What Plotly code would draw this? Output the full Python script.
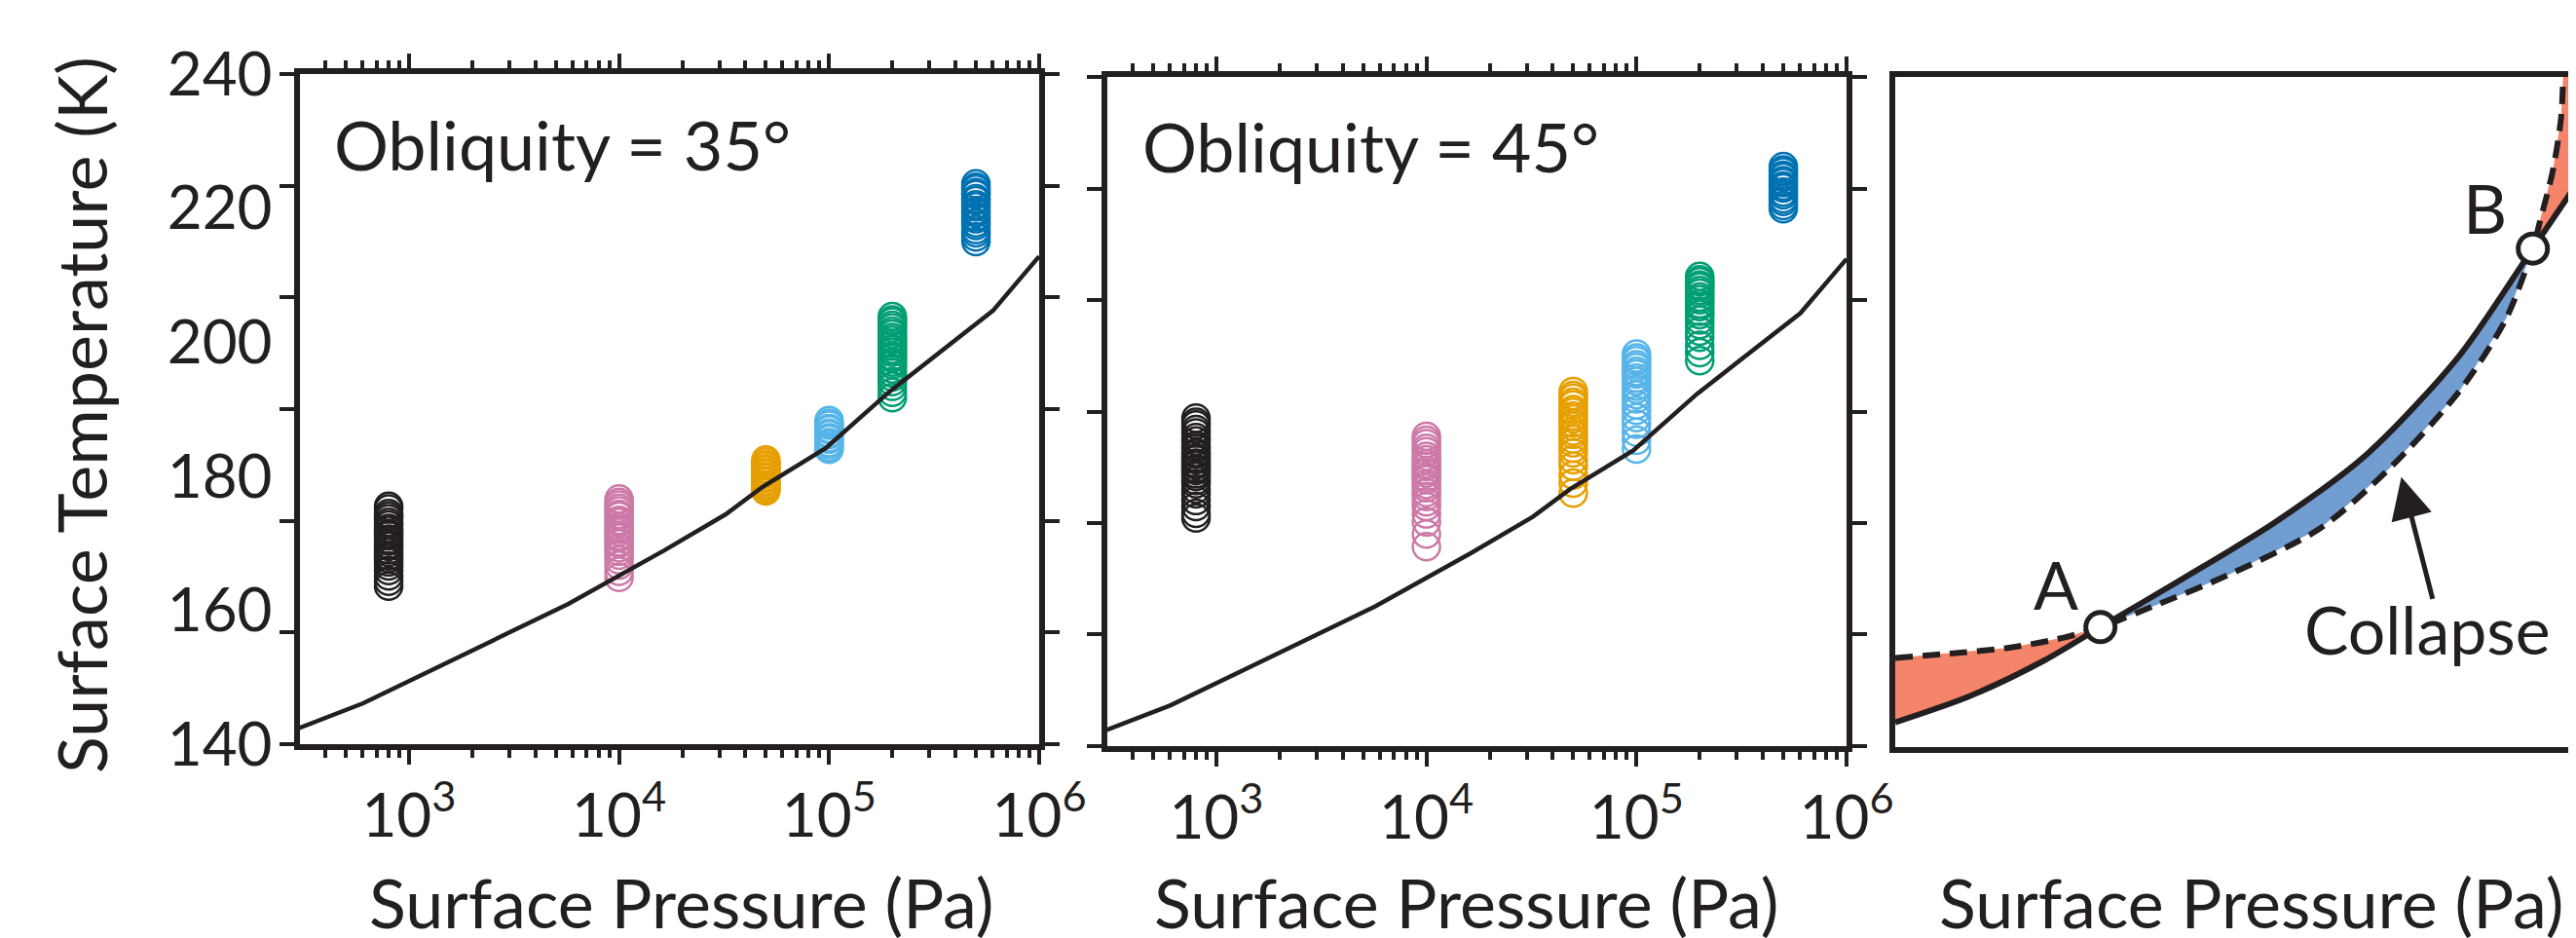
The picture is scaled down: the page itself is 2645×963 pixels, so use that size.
import plotly.graph_objects as go

W, H = 2645, 963
INK = "#231F20"
FONT = "Lato"

# ---------------- data ----------------
cluster_pressure = [800, 1e4, 5e4, 1e5, 2e5, 5e5]
cluster_colors = ["#231F20", "#CC79A7", "#E69F00", "#56B4E9", "#009E73", "#0072B2"]

# Obliquity = 35 deg : surface temperatures (K) for each pressure cluster
t35_p800 = [175.5, 175.1, 174.4, 174.0, 173.6, 173.1, 172.7, 172.2, 171.9, 171.4, 171.1, 170.6,
            170.3, 169.8, 169.5, 169.0, 168.6, 168.1, 167.7, 167.2, 166.6, 165.9, 165.1, 164.3, 163.6]
t35_p1e4 = [176.6, 176.1, 175.7, 175.2, 174.8, 174.3, 174.0, 173.4, 173.1, 172.5, 172.1, 171.7,
            171.1, 170.8, 170.2, 169.9, 169.3, 168.8, 168.2, 167.5, 166.7, 165.8, 164.9]
t35_p5e4 = [182.4, 182.1, 181.7, 181.5, 181.1, 180.9, 180.5, 180.3, 179.9, 179.7, 179.3, 179.1,
            178.7, 178.4, 178.1, 177.8]
t35_p1e5 = [188.3, 187.9, 187.6, 187.1, 186.9, 186.4, 186.2, 185.7, 185.5, 185.0, 184.7, 184.3, 184.0]
t35_p2e5 = [203.8, 203.3, 203.0, 202.5, 202.1, 201.6, 201.2, 200.7, 200.3, 199.8, 199.4, 198.9,
            198.5, 197.9, 197.6, 197.0, 196.6, 196.0, 195.4, 194.8, 194.1, 193.4, 192.5, 191.7]
t35_p5e5 = [223.6, 223.1, 222.8, 222.3, 222.0, 221.4, 221.1, 220.5, 220.2, 219.6, 219.3, 218.7,
            218.4, 217.8, 217.4, 216.8, 216.3, 215.7, 215.0]

# Obliquity = 45 deg
t45_p800 = [189.0, 188.4, 188.0, 187.3, 186.8, 186.1, 185.6, 184.9, 184.5, 183.9, 183.6, 183.1,
            182.8, 182.3, 182.0, 181.5, 181.2, 180.7, 180.3, 179.7, 179.2, 178.4, 177.7, 176.7,
            175.8, 174.8, 174.1]
t45_p1e4 = [186.3, 185.7, 185.2, 184.5, 184.0, 183.3, 182.8, 182.2, 181.8, 181.2, 180.8, 180.2,
            179.8, 179.1, 178.6, 177.9, 177.3, 176.5, 175.8, 174.7, 173.5, 171.7, 169.8]
t45_p5e4 = [193.0, 192.4, 192.0, 191.4, 191.0, 190.3, 189.9, 189.3, 188.9, 188.3, 187.8, 187.1,
            186.6, 185.9, 185.3, 184.5, 183.8, 182.8, 181.8, 180.5, 179.3, 177.8]
t45_p1e5 = [198.6, 198.0, 197.6, 197.0, 196.6, 196.0, 195.6, 195.0, 194.5, 193.8, 193.3, 192.5,
            191.9, 191.0, 190.2, 189.1, 188.1, 186.9, 185.7, 184.4]
t45_p2e5 = [210.2, 209.7, 209.4, 208.9, 208.6, 208.1, 207.7, 207.1, 206.7, 206.1, 205.7, 205.0,
            204.5, 203.7, 203.0, 202.0, 201.1, 199.9, 198.8, 197.6]
t45_p5e5 = [226.6, 226.1, 225.8, 225.3, 225.0, 224.5, 224.2, 223.7, 223.4, 222.8, 222.4, 221.8,
            221.4, 220.8, 220.3]

t35_clusters = [t35_p800, t35_p1e4, t35_p5e4, t35_p1e5, t35_p2e5, t35_p5e5]
t45_clusters = [t45_p800, t45_p1e4, t45_p5e4, t45_p1e5, t45_p2e5, t45_p5e5]

# reference (solid) curve, shared by both panels
curve_p = [300, 605, 5710, 16400, 32200, 48300, 96600, 193600, 603000, 1000000]
curve_t = [142.4, 146.1, 160.9, 168.9, 174.3, 178.4, 184.2, 192.6, 204.7, 212.8]

# axis ticks
x_major = [1e3, 1e4, 1e5, 1e6]
x_major_text = ["10<sup>3</sup>", "10<sup>4</sup>", "10<sup>5</sup>", "10<sup>6</sup>"]
x_minor = [m * 10 ** e for e in (2, 3, 4, 5) for m in range(2, 10) if 300 <= m * 10 ** e < 1e6]
y_label_vals = [140, 160, 180, 200, 220, 240]
y_mark_vals = [140, 156.67, 173.33, 190, 206.67, 223.33, 240]

# schematic panel (arbitrary units 0..1)
solid_u = [0.0, 0.108, 0.216, 0.298, 0.417, 0.551, 0.686, 0.820, 0.926, 1.0]
solid_v = [0.037, 0.076, 0.129, 0.179, 0.251, 0.335, 0.438, 0.585, 0.744, 0.856]
dashed_u = [0.0, 0.163, 0.243, 0.298, 0.379, 0.484, 0.618, 0.718, 0.820, 0.887, 0.926, 0.936, 0.955, 0.967, 0.970]
dashed_v = [0.133, 0.148, 0.163, 0.179, 0.212, 0.257, 0.327, 0.416, 0.532, 0.639, 0.744, 0.783, 0.860, 0.939, 1.0]
point_u = [0.298, 0.926]
point_v = [0.179, 0.744]
point_names = ["A", "B"]
iA_s, iB_s = 3, 8
iA_d, iB_d = 3, 10

RED = "#F4846A"
BLUE = "#729DD1"


# ---------------- layout helpers ----------------
def px_x(x):
    return x / W


def px_y(y):
    return 1 - y / H


fig = go.Figure()

# ---- panel 1 & 2 scatter ----
for clusters, xa, ya in [(t35_clusters, "x", "y"), (t45_clusters, "x2", "y2")]:
    for p, temps, col in zip(cluster_pressure, clusters, cluster_colors):
        fig.add_trace(go.Scatter(
            x=[p] * len(temps), y=temps, mode="markers", xaxis=xa, yaxis=ya,
            marker=dict(symbol="circle-open", size=28, color=col, line=dict(width=2.5, color=col)),
            showlegend=False, hoverinfo="x+y"))

fig.add_trace(go.Scatter(x=curve_p, y=curve_t, mode="lines", xaxis="x", yaxis="y7",
                         line=dict(color=INK, width=4.5), showlegend=False))
fig.add_trace(go.Scatter(x=curve_p, y=curve_t, mode="lines", xaxis="x2", yaxis="y2",
                         line=dict(color=INK, width=4.5), showlegend=False))

# ---- panel 3 fills ----
left_u = dashed_u[:iA_d + 1] + solid_u[:iA_s + 1][::-1]
left_v = dashed_v[:iA_d + 1] + solid_v[:iA_s + 1][::-1]
mid_u = solid_u[iA_s:iB_s + 1] + dashed_u[iA_d:iB_d + 1][::-1]
mid_v = solid_v[iA_s:iB_s + 1] + dashed_v[iA_d:iB_d + 1][::-1]
right_u = dashed_u[iB_d:] + [1.0] + solid_u[iB_s:][::-1]
right_v = dashed_v[iB_d:] + [1.0] + solid_v[iB_s:][::-1]
for uu, vv, c in [(left_u, left_v, RED), (mid_u, mid_v, BLUE), (right_u, right_v, RED)]:
    fig.add_trace(go.Scatter(x=uu, y=vv, mode="lines", fill="toself", fillcolor=c,
                             line=dict(width=0, color=c), xaxis="x3", yaxis="y3",
                             showlegend=False, hoverinfo="skip"))
fig.add_trace(go.Scatter(x=dashed_u, y=dashed_v, mode="lines", xaxis="x3", yaxis="y3",
                         line=dict(color=INK, width=6, dash="18px,10px", shape="spline",
                                   smoothing=0.8),
                         showlegend=False))
fig.add_trace(go.Scatter(x=solid_u, y=solid_v, mode="lines", xaxis="x3", yaxis="y3",
                         line=dict(color=INK, width=6, shape="spline", smoothing=0.8),
                         showlegend=False))
fig.add_trace(go.Scatter(x=point_u, y=point_v, mode="markers", xaxis="x3", yaxis="y3",
                         marker=dict(symbol="circle", size=30, color="white",
                                     line=dict(width=5, color=INK)),
                         text=point_names, showlegend=False))

# ---- axes ----
tickfont = dict(family=FONT, size=62, color=INK)
p1x = [px_x(300), px_x(1059)]
p2x = [px_x(1129), px_x(1888)]
p3x = [px_x(1938), 1.0]
p1y = [px_y(756), px_y(68)]
p2y = [px_y(758), px_y(71)]
p3y = [px_y(759), px_y(71)]


def xcfg(domain, anchor):
    return dict(type="log", range=[2.481, 6.0], domain=domain, anchor=anchor,
                showline=True, linewidth=6, linecolor=INK, mirror="ticks",
                ticks="outside", ticklen=15, tickwidth=4, tickcolor=INK,
                tickmode="array", tickvals=x_major, ticktext=x_major_text,
                tickfont=tickfont, ticklabelstandoff=0, automargin=False,
                showgrid=False, zeroline=False,
                minor=dict(tickmode="array", tickvals=x_minor, ticks="outside", ticklen=8,
                           tickwidth=4, tickcolor=INK, showgrid=False))


def ycfg(domain, anchor):
    return dict(range=[140, 240], domain=domain, anchor=anchor,
                showline=True, linewidth=6, linecolor=INK, mirror="ticks",
                ticks="outside", ticklen=15, tickwidth=4, tickcolor=INK,
                tickmode="array", tickvals=y_mark_vals, showticklabels=False,
                showgrid=False, zeroline=False, automargin=False)


fig.update_layout(
    width=W, height=H, margin=dict(l=0, r=0, t=0, b=0, pad=0, autoexpand=False),
    paper_bgcolor="white", plot_bgcolor="white",
    font=dict(family=FONT, color=INK),
    xaxis=xcfg(p1x, "y"), yaxis=ycfg(p1y, "x"),
    xaxis2=xcfg(p2x, "y2"), yaxis2=ycfg(p2y, "x2"),
    yaxis7=dict(range=[140, 240], overlaying="y", anchor="x", side="left",
                tickmode="array", tickvals=y_label_vals, ticks="outside", ticklen=15,
                tickwidth=1, tickcolor="rgba(0,0,0,0)", showline=False, showgrid=False,
                zeroline=False, tickfont=tickfont, ticklabelstandoff=0, automargin=False),
    xaxis3=dict(range=[0, 1], domain=p3x, anchor="y3", showline=True, linewidth=6,
                linecolor=INK, mirror=True, showticklabels=False, ticks="",
                showgrid=False, zeroline=False, automargin=False),
    yaxis3=dict(range=[0, 1], domain=p3y, anchor="x3", showline=True, linewidth=6,
                linecolor=INK, mirror=False, showticklabels=False, ticks="",
                showgrid=False, zeroline=False, automargin=False),
    showlegend=False,
)

big = dict(family=FONT, size=70, color=INK)
ann = []
ann.append(dict(text="Surface Temperature (K)", textangle=-90, x=px_x(75), y=px_y(418),
                xref="paper", yref="paper", xanchor="center", yanchor="middle",
                showarrow=False, font=big))
for cx in (691, 1498, 2303):
    ann.append(dict(text="Surface Pressure (Pa)", x=px_x(cx), y=px_y(918), xref="paper",
                    yref="paper", xanchor="center", yanchor="middle", showarrow=False, font=big))
ann.append(dict(text="Obliquity = 35°", x=px_x(333), y=px_y(140), xref="paper", yref="paper",
                xanchor="left", yanchor="middle", showarrow=False, font=big))
ann.append(dict(text="Obliquity = 45°", x=px_x(1163), y=px_y(142), xref="paper", yref="paper",
                xanchor="left", yanchor="middle", showarrow=False, font=big))
ann.append(dict(text="A", x=px_x(2103), y=px_y(591), xref="paper", yref="paper",
                xanchor="center", yanchor="middle", showarrow=False,
                font=dict(family=FONT, size=68, color=INK)))
ann.append(dict(text="B", x=px_x(2543), y=px_y(205), xref="paper", yref="paper",
                xanchor="center", yanchor="middle", showarrow=False,
                font=dict(family=FONT, size=70, color=INK)))
ann.append(dict(text="Collapse", x=px_x(2484), y=px_y(637), xref="paper", yref="paper",
                xanchor="center", yanchor="middle", showarrow=False,
                font=dict(family=FONT, size=68, color=INK)))
# arrow pointing from "Collapse" to the dashed curve
ann.append(dict(text="", x=0.735, y=0.403, xref="x3", yref="y3",
                ax=0.781, ay=0.219, axref="x3", ayref="y3",
                showarrow=True, arrowhead=2, arrowsize=1.7, arrowwidth=5, arrowcolor=INK))
fig.update_layout(annotations=ann)

fig.write_html("out.html")
